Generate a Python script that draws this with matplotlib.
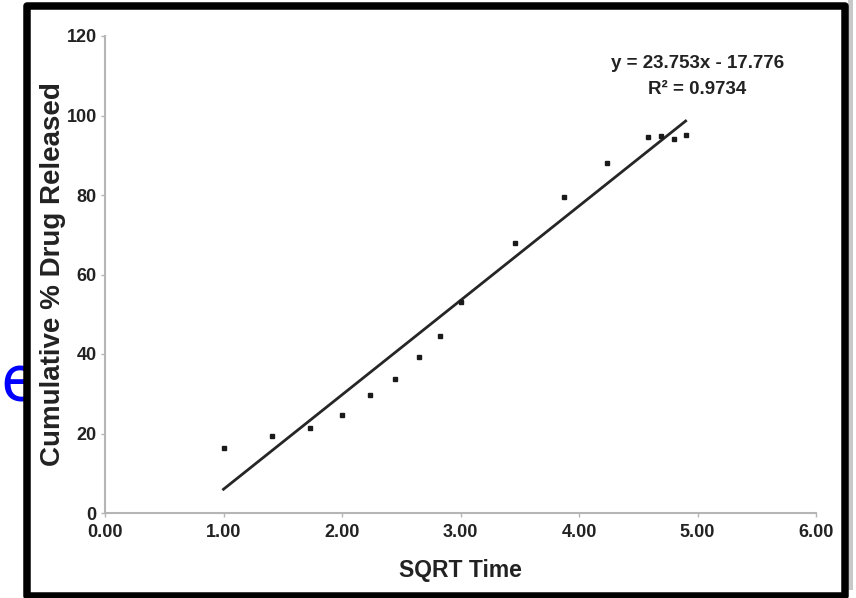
import numpy as np
import matplotlib
matplotlib.use("Agg")
import matplotlib.pyplot as plt
from matplotlib.patches import Rectangle
from matplotlib.transforms import Bbox, TransformedBbox

# sqrt(time) and cumulative release
sqrt_time = [1.00, 1.41, 1.73, 2.00, 2.24, 2.45, 2.65, 2.83, 3.00,
             3.46, 3.87, 4.24, 4.58, 4.69, 4.80, 4.90]
released = [16.4, 19.4, 21.4, 24.7, 29.7, 33.7, 39.2, 44.5, 53.1,
            67.9, 79.5, 88.1, 94.6, 94.8, 94.1, 95.1]

# trendline as printed on the chart
slope = 23.753
intercept = -17.776
r2 = 0.9734

x_ticks = [0, 1, 2, 3, 4, 5, 6]
y_ticks = [0, 20, 40, 60, 80, 100, 120]

sans = ['Liberation Sans', 'DejaVu Sans']
txt_col = '#222222'

W, H = 856, 598
fig = plt.figure(figsize=(W / 100, H / 100), dpi=100)
fig.patch.set_facecolor('white')

# axes placed in pixel terms
ax = fig.add_axes([105 / W, (H - 513) / H, (816 - 105) / W, (513 - 36) / H])
ax.set_xlim(0, 6)
ax.set_ylim(0, 120)

ax.plot(sqrt_time, released, 's', color='#1a1a1a', markersize=3.2, zorder=3)
xl = np.array([sqrt_time[0], sqrt_time[-1]])
ax.plot(xl, slope * xl + intercept, '-', color='#262626', lw=2.0, zorder=2)

for s in ['top', 'right']:
    ax.spines[s].set_visible(False)
for s in ['left', 'bottom']:
    ax.spines[s].set_color('#b5b5b5')
    ax.spines[s].set_linewidth(1.5)

ax.set_xticks(x_ticks)
ax.set_xticklabels([f"{v:.2f}" for v in x_ticks])
ax.set_yticks(y_ticks)
ax.set_yticklabels([str(v) for v in y_ticks])
ax.tick_params(axis='both', direction='out', length=3, width=1, color='#b5b5b5',
               labelcolor=txt_col)
ax.tick_params(axis='x', pad=5)
ax.tick_params(axis='y', pad=3)
for lab in ax.get_xticklabels() + ax.get_yticklabels():
    lab.set_family(sans)
    lab.set_fontweight('bold')
    lab.set_fontsize(13)

ax.set_xlabel("SQRT Time", family=sans, fontweight='bold', fontsize=16.5,
              color=txt_col, labelpad=13)
ax.set_ylabel("Cumulative % Drug Released", family=sans,
              fontweight='bold', fontsize=20, color=txt_col, labelpad=0)

ax.text(0.833, 0.96, f"y = {slope}x - {abs(intercept)}\nR\u00b2 = {r2}",
        transform=ax.transAxes, ha='center', va='top', family=sans,
        fontweight='bold', fontsize=13.5, color=txt_col, linespacing=1.65)

# stray blue letter at the left edge, only the part outside the frame shows
e_txt = fig.text(0 / W, (H - 402) / H, "e", color='#0000ff', fontsize=47,
                 family=['Noto Sans', 'DejaVu Sans'], ha='left', va='baseline', zorder=1)
e_txt.set_clip_box(TransformedBbox(Bbox([[0, 0], [24 / W, 1]]), fig.transFigure))
e_txt.set_clip_on(True)

# thick black frame with a soft grey shadow on the right
fig.patches.append(Rectangle((848 / W, 8 / H), 5 / W, (H - 8) / H,
                             transform=fig.transFigure, facecolor='#c8c8c8',
                             edgecolor='none', zorder=4))
fig.patches.append(Rectangle((27 / W, (H - 595.5) / H), (844.5 - 27) / W, (595.5 - 5.5) / H,
                             transform=fig.transFigure, facecolor='none',
                             edgecolor='black', lw=5.4, joinstyle='round', zorder=5))

plt.savefig("out.png", dpi=100)
